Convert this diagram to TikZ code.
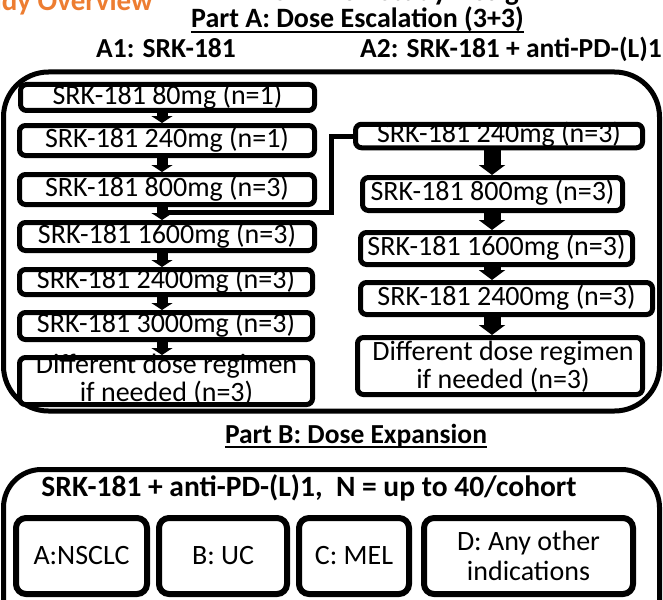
\documentclass[tikz,border=0pt]{standalone}
\usepackage{fontspec}
\setmainfont{Carlito}
\usetikzlibrary{arrows.meta,calc}
\definecolor{orng}{HTML}{ED7D31}
\newcommand{\fsz}[1]{\fontsize{#1}{#1}\selectfont}
\begin{document}
\begin{tikzpicture}[x=1pt,y=-1pt,
  dbox/.style={draw, line width=5pt, rounded corners=6pt, fill=white, inner sep=0pt, font=\fsz{28}, text height=18.5pt, text depth=5pt},
  bbox/.style={draw, line width=6pt, rounded corners=10pt, fill=white, inner sep=0pt, minimum height=76pt, font=\fontsize{28}{30}\selectfont, align=center},
  frame/.style={draw, line width=5pt, inner sep=0pt},
  btxt/.style={inner sep=0pt, font=\fontsize{28}{28}\selectfont, align=center},
  hdr/.style={inner sep=0pt, font=\bfseries\fsz{27.5}},
  larr/.style={line width=11pt, -{Triangle[width=21pt,length=7pt]}},
  rarr/.style={line width=17pt, -{Triangle[width=26pt,length=10pt]}},
  conn/.style={line width=5pt},
  uline/.style={line width=2pt}]
\useasboundingbox (0,0) rectangle (663,599);
\clip (0,0) rectangle (663,599);

% cropped slide headings
\node[inner sep=0pt, anchor=base east, text=orng, font=\bfseries\fsz{29}] (slidetitle) at (153,11) {Study Overview};
\node[inner sep=0pt, anchor=base, font=\bfseries\fsz{29}] (slidesub) at (404,1) {SRK-181 Study Design};

% Part A
\node[hdr, font=\bfseries\fsz{28}, anchor=base] (titleA) at (357.5,28) {Part A: Dose Escalation (3+3)};
\draw[uline] ([yshift=-4pt]titleA.base west) -- ([yshift=-4pt]titleA.base east);
\node[hdr, anchor=base] (labA1) at (166,58) {A1: SRK-181};
\node[hdr, anchor=base west] (labA2) at (360,58) {A2: SRK-181 + anti-PD-(L)1};

\node[frame, rounded corners=45pt, minimum width=656pt, minimum height=339pt] (outerA) at (331.5,241.5) {};

% A1 column
\node[dbox, minimum width=294pt, minimum height=26pt] (L1) at (167.5,97.5) {SRK-181 80mg (n=1)};
\node[dbox, minimum width=295pt, minimum height=30pt] (L2) at (167,140.5) {SRK-181 240mg (n=1)};
\node[dbox, minimum width=295pt, minimum height=30pt] (L3) at (167,189.5) {SRK-181 800mg (n=3)};
\node[dbox, minimum width=295pt, minimum height=28pt] (L4) at (167,236.5) {SRK-181 1600mg (n=3)};
\node[dbox, minimum width=293pt, minimum height=25pt] (L5) at (166,282) {SRK-181 2400mg (n=3)};
\node[dbox, minimum width=293pt, minimum height=27pt] (L6) at (166,326) {SRK-181 3000mg (n=3)};
\node[dbox, minimum width=293pt, minimum height=47pt] (L7) at (166,381) {};
\node[btxt] (L7t) at (166.5,380) {Different dose regimen\\if needed (n=3)};

% A2 column
\node[dbox, minimum width=287pt, minimum height=23pt] (R1) at (499,136) {SRK-181 240mg (n=3)};
\node[dbox, minimum width=260pt, minimum height=33pt] (R2) at (492.5,194) {SRK-181 800mg (n=3)};
\node[dbox, minimum width=272pt, minimum height=32pt] (R3) at (496.5,248.5) {SRK-181 1600mg (n=3)};
\node[dbox, minimum width=292pt, minimum height=32pt] (R4) at (506.5,298.5) {SRK-181 2400mg (n=3)};
\node[dbox, minimum width=285pt, minimum height=57pt] (R5) at (500,366) {};
\node[btxt] (R5t) at (503,367) {Different dose regimen\\if needed (n=3)};

% arrows
\coordinate (lx) at (162,0);
\coordinate (rx) at (492,0);
\draw[larr] (lx |- L1.south) -- (lx |- L2.north);
\draw[larr] (lx |- L2.south) -- (lx |- L3.north);
\draw[larr] (lx |- L3.south) -- (lx |- L4.north);
\draw[larr] (lx |- L4.south) -- (lx |- L5.north);
\draw[larr] (lx |- L5.south) -- (lx |- L6.north);
\draw[larr] (lx |- L6.south) -- (lx |- L7.north);
\draw[rarr] (rx |- R1.south) -- (rx |- R2.north);
\draw[rarr] (rx |- R2.south) -- (rx |- R3.north);
\draw[rarr] (rx |- R3.south) -- (rx |- R4.north);
\draw[rarr] (rx |- R4.south) -- (rx |- R5.north);

% branch connector
\coordinate (j) at (163,212);
\draw[conn] (j) -| ($(R1.west)+(-22,0)$) -- (R1.west);

% Part B
\node[hdr, anchor=base] (titleB) at (356,443) {Part B: Dose Expansion};
\draw[uline] ([yshift=-4pt]titleB.base west) -- ([yshift=-4pt]titleB.base east);
\node[frame, rounded corners=38pt, minimum width=656pt, minimum height=170pt] (outerB) at (331.5,554.5) {};
\node[hdr, font=\bfseries\fsz{29.5}, anchor=base] (hdrB) at (309,496) {SRK-181 + anti-PD-(L)1,\ \ N = up to 40/cohort};
\node[bbox, minimum width=131pt] (BA) at (81.5,556) {A:NSCLC};
\node[bbox, minimum width=128pt] (BB) at (223,556) {B: UC};
\node[bbox, minimum width=110pt] (BC) at (354,556) {C: MEL};
\node[bbox, minimum width=209pt] (BD) at (528.5,556) {D: Any other\\indications};
\end{tikzpicture}
\end{document}
